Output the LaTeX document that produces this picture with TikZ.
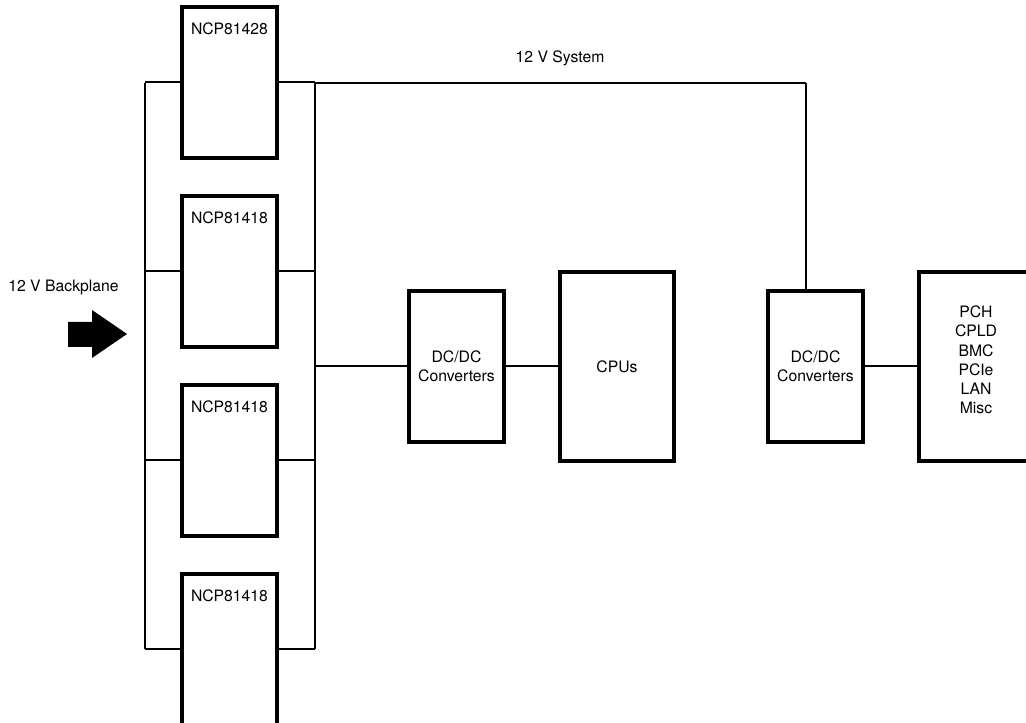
\documentclass[tikz,border=0pt]{standalone}
\usepackage{fontspec}
\setmainfont{TeX Gyre Heros}
\begin{document}
\begin{tikzpicture}[x=0.75pt,y=-0.75pt,
  every node/.style={font=\fontsize{11.8pt}{14.6pt}\selectfont},
  blk/.style={draw=black,line width=2.4pt,fill=white,inner sep=0pt,align=center},
  ncp/.style={blk,minimum width=95*0.75pt,minimum height=151*0.75pt},
  dcbox/.style={blk,minimum width=95*0.75pt,minimum height=151*0.75pt},
  bigbox/.style={blk,minimum width=114*0.75pt,minimum height=189*0.75pt},
  ncplabel/.style={label={[anchor=north,yshift=-9.5pt,font=\fontsize{11.8pt}{14.6pt}\selectfont]north:#1}},
  bus/.style={line width=1.5pt},
  thin/.style={line width=1.2pt},
  txt/.style={inner sep=0pt}]
\useasboundingbox (0,0) rectangle (1026,723);
% bus coordinates
\coordinate (lt) at (145,83);
\coordinate (lb) at (145,649);
\coordinate (rt) at (315,83);
\coordinate (rb) at (315,649);
\coordinate (sys) at (806,83);
% buses
\draw[bus] (lt) -- (lb);
\draw[bus] (rt) -- (rb);
% NCP boxes
\node[ncp,ncplabel=NCP81428] (n1) at (229.5,82.5) {};
\node[ncp,ncplabel=NCP81418] (n2) at (229.5,271.5) {};
\node[ncp,ncplabel=NCP81418] (n3) at (229.5,460.5) {};
\node[ncp,ncplabel=NCP81418] (n4) at (229.5,649.5) {};
\foreach \n in {n1,n2,n3,n4}{
  \draw[bus] (\n.west) -- (\n.west -| lt);
  \draw[bus] (\n.east) -- (\n.east -| rt);
}
% right side
\node[dcbox] (dc1) at (456.5,366.5) {DC/DC\\Converters};
\node[bigbox] (cpu) at (617,366.5) {CPUs};
\node[dcbox] (dc2) at (815.5,366.5) {DC/DC\\Converters};
\node[bigbox,label={[align=center,yshift=5pt,font=\fontsize{11.8pt}{14.3pt}\selectfont]center:PCH\\CPLD\\BMC\\PCIe\\LAN\\Misc}] (pch) at (976,366.5) {};
\draw[bus] (dc1.west) -- (dc1.west -| rt);
\draw[bus] (dc1.east) -- (cpu.west);
\draw[bus] (dc2.east) -- (pch.west);
\draw[bus] (rt) -- (sys);
\draw[thin] (sys) -- (dc2.north -| sys);
% texts
\node[txt] (systxt) at (560,58) {12 V System};
\node[txt] (bptxt) at (63.5,287) {12 V Backplane};
% arrow
\fill[black] (68,322) -- (92,322) -- (92,310) -- (127,334) -- (92,358) -- (92,347) -- (68,347) -- cycle;
\end{tikzpicture}
\end{document}
